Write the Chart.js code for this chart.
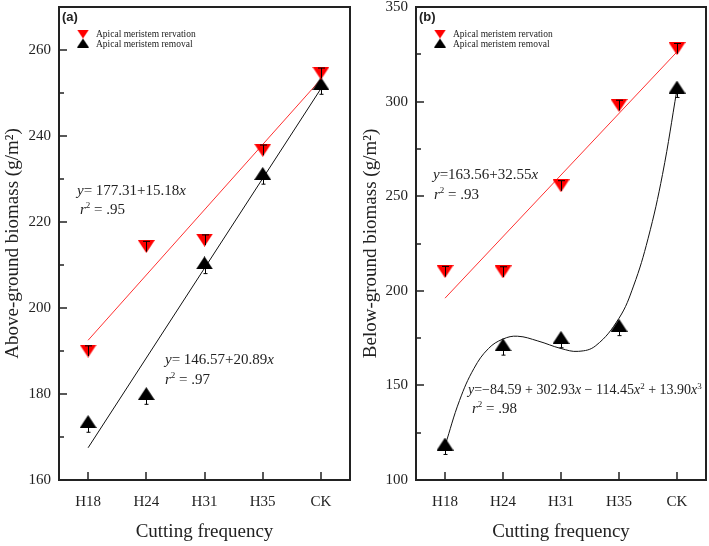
<!DOCTYPE html>
<html>
<head>
<meta charset="utf-8">
<script src="https://cdn.jsdelivr.net/npm/chart.js@4.4.0/dist/chart.umd.min.js"></script>
<style>
body { margin: 0; background: #fff; }
#boxA { position: absolute; left: 0; top: 0; width: 352px; height: 546px; }
#boxB { position: absolute; left: 352px; top: 0; width: 357px; height: 546px; }
</style>
</head>
<body>
<div id="boxA"><canvas id="chartA"></canvas></div>
<div id="boxB"><canvas id="chartB"></canvas></div>
<script>
var categories = ['H18', 'H24', 'H31', 'H35', 'CK'];
var seriesNames = ['Apical meristem rervation', 'Apical meristem removal'];

// (a) above-ground biomass
var aboveKeep = [190.0, 214.3, 215.8, 236.7, 254.6];
var aboveKeepErr = [1.2, 1.2, 1.2, 1.2, 1.2];
var aboveCut = [173.6, 180.1, 210.5, 231.3, 252.2];
var aboveCutErr = [2.5, 2.5, 2.5, 2.5, 2.5];
var aboveKeepFit = [192.5, 253.2];   // fitted line at H18 and CK
var aboveCutFit = [167.5, 251.0];

// (b) below-ground biomass
var belowKeep = [210.2, 210.0, 255.5, 298.0, 328.0];
var belowKeepErr = [2.7, 2.7, 2.7, 2.7, 2.7];
var belowCut = [119.0, 171.5, 175.4, 181.8, 307.7];
var belowCutErr = [5.5, 5.5, 5.5, 5.5, 5.5];
var belowKeepFit = [196.1, 326.3];
var belowCurveX = [1, 1.25, 1.5, 1.75, 2, 2.25, 2.6, 3, 3.3, 3.6, 4, 4.25, 4.5, 4.75, 5];
var belowCurveY = [118, 142, 159, 169.5, 174.5, 176, 173.5, 169.5, 168, 171, 185.5, 202.5, 227.5, 261.5, 306.5];

var serif = '"Liberation Serif", "Times New Roman", serif';
var textColor = '#222';

function makeTriangle(color, up, w, h) {
	var c = document.createElement('canvas');
	c.width = w; c.height = h;
	var g = c.getContext('2d');
	g.fillStyle = color;
	g.beginPath();
	if (up) { g.moveTo(w / 2, 0); g.lineTo(w, h); g.lineTo(0, h); }
	else { g.moveTo(0, 0); g.lineTo(w, 0); g.lineTo(w / 2, h); }
	g.closePath();
	g.fill();
	return c;
}
var redDown = makeTriangle('#ff0000', false, 17, 13);
var blackUp = makeTriangle('#000000', true, 17, 13);

function toPoints(values) {
	return values.map(function(v, i) { return {x: i + 1, y: v}; });
}
function fitPoints(ends) {
	return [{x: 1, y: ends[0]}, {x: categories.length, y: ends[1]}];
}

// text with italic letters and superscripts
function drawRuns(ctx, x, y, runs, size) {
	runs.forEach(function(r) {
		var st = r[1] || '';
		var fs = st === 'sup' ? Math.round(size * 0.62) : size;
		ctx.font = (st === 'i' ? 'italic ' : '') + fs + 'px ' + serif;
		ctx.fillText(r[0], x, st === 'sup' ? y - size * 0.38 : y);
		x += ctx.measureText(r[0]).width;
	});
}

// red: T through the marker; black: only the lower half shows
var errorBarPlugin = {
	id: 'errorBars',
	afterDatasetsDraw: function(chart) {
		var ctx = chart.ctx;
		ctx.save();
		ctx.strokeStyle = '#000';
		ctx.lineWidth = 1;
		chart.data.datasets.forEach(function(ds, di) {
			if (!ds.errors) return;
			var meta = chart.getDatasetMeta(di);
			meta.data.forEach(function(pt, i) {
				var v = ds.data[i].y;
				var yTop = chart.scales.y.getPixelForValue(v + ds.errors[i]);
				var yBot = chart.scales.y.getPixelForValue(v - ds.errors[i]);
				var x = Math.round(pt.x) + 0.5;
				ctx.beginPath();
				if (ds.capAt === 'top') {
					ctx.moveTo(x, yTop); ctx.lineTo(x, yBot);
					ctx.moveTo(x - 3.5, yTop); ctx.lineTo(x + 3.5, yTop);
				} else {
					ctx.moveTo(x, pt.y); ctx.lineTo(x, yBot);
					ctx.moveTo(x - 2, yBot); ctx.lineTo(x + 2, yBot);
				}
				ctx.stroke();
			});
		});
		ctx.restore();
	}
};

var framePlugin = {
	id: 'frame',
	afterDraw: function(chart, args, opts) {
		var ctx = chart.ctx;
		var a = chart.chartArea;
		var xs = chart.scales.x, ys = chart.scales.y;
		ctx.save();
		ctx.strokeStyle = '#222';
		ctx.lineWidth = 2;
		ctx.strokeRect(a.left, a.top, a.right - a.left, a.bottom - a.top);
		ctx.lineWidth = 1.5;
		ctx.beginPath();
		xs.ticks.forEach(function(t) {
			var px = Math.round(xs.getPixelForValue(t.value));
			ctx.moveTo(px, a.bottom); ctx.lineTo(px, a.bottom - 8);
		});
		var yt = ys.ticks.map(function(t) { return t.value; });
		yt.forEach(function(v, i) {
			var py = Math.round(ys.getPixelForValue(v));
			ctx.moveTo(a.left, py); ctx.lineTo(a.left + 8, py);
			if (i < yt.length - 1) {
				var my = Math.round(ys.getPixelForValue((v + yt[i + 1]) / 2));
				ctx.moveTo(a.left, my); ctx.lineTo(a.left + 5, my);
			}
		});
		ctx.stroke();

		// panel label
		ctx.fillStyle = textColor;
		ctx.textBaseline = 'middle';
		ctx.font = 'bold 13px "Liberation Sans", Arial, sans-serif';
		ctx.fillText(opts.label, a.left + 3, 17);

		// legend inside the plot
		var lx = a.left + 24, ly = 34;
		ctx.drawImage(makeTriangle('#ff0000', false, 12, 9), lx - 6, ly - 4.5);
		ctx.drawImage(makeTriangle('#000000', true, 12, 9), lx - 6, ly + 4.5);
		ctx.font = '9.5px ' + serif;
		ctx.fillText(seriesNames[0], lx + 13, ly);
		ctx.fillText(seriesNames[1], lx + 13, ly + 10);

		// equations
		ctx.textBaseline = 'alphabetic';
		opts.equations.forEach(function(eq) {
			drawRuns(ctx, eq.x, eq.y, eq.runs, eq.size);
		});
		ctx.restore();
	}
};

function makeOptions(yMin, yMax, yStep, yTitle, yWidth, titlePad, padRight, extras) {
	return {
		responsive: true,
		maintainAspectRatio: false,
		animation: false,
		layout: { autoPadding: false, padding: { top: 7, right: padRight, left: 0, bottom: 0 } },
		plugins: {
			legend: { display: false },
			tooltip: { enabled: false },
			frame: extras
		},
		scales: {
			x: {
				type: 'linear', min: 0.5, max: 5.5,
				afterBuildTicks: function(s) {
					s.ticks = categories.map(function(c, i) { return {value: i + 1}; });
				},
				ticks: {
					callback: function(v) { return categories[v - 1]; },
					font: { family: serif, size: 15 }, color: textColor, padding: 13, maxRotation: 0
				},
				grid: { display: false, drawTicks: false },
				border: { display: false },
				title: { display: true, text: 'Cutting frequency', font: { family: serif, size: 19 }, color: textColor, padding: { top: 0, bottom: 3 } },
				afterFit: function(s) { s.height = 66; s.paddingLeft = 0; s.paddingRight = 0; }
			},
			y: {
				min: yMin, max: yMax,
				afterBuildTicks: function(s) {
					s.ticks = s.ticks.filter(function(t) { return (t.value - yMin) % yStep === 0; });
				},
				ticks: { stepSize: yStep, font: { family: serif, size: 15 }, color: textColor, padding: 8 },
				grid: { display: false, drawTicks: false },
				border: { display: false },
				title: { display: true, text: yTitle, font: { family: serif, size: 19 }, color: textColor, padding: { top: titlePad, bottom: 0 } },
				afterFit: function(s) { s.width = yWidth; s.paddingTop = 0; s.paddingBottom = 0; }
			}
		}
	};
}

function lineSet(points, color, tension) {
	return {
		type: 'line', data: points, borderColor: color, borderWidth: 1,
		pointRadius: 0, fill: false, tension: tension || 0, order: 2
	};
}
function markerSet(label, values, errs, style, capAt) {
	return {
		label: label, data: toPoints(values), errors: errs, capAt: capAt,
		pointStyle: style, pointRadius: 8, order: 1
	};
}

new Chart(document.getElementById('chartA'), {
	type: 'scatter',
	data: {
		datasets: [
			lineSet(fitPoints(aboveKeepFit), '#ff3030'),
			lineSet(fitPoints(aboveCutFit), '#111'),
			markerSet(seriesNames[0], aboveKeep, aboveKeepErr, redDown, 'top'),
			markerSet(seriesNames[1], aboveCut, aboveCutErr, blackUp, 'bottom')
		]
	},
	options: makeOptions(160, 270, 20, 'Above-ground biomass (g/m²)', 59, 2, 2, {
		label: '(a)',
		equations: [
			{x: 77, y: 195, size: 15, runs: [['y', 'i'], ['= 177.31+15.18'], ['x', 'i']]},
			{x: 80, y: 214, size: 15, runs: [['r', 'i'], ['2', 'sup'], [' = .95']]},
			{x: 165, y: 364, size: 15, runs: [['y', 'i'], ['= 146.57+20.89'], ['x', 'i']]},
			{x: 165, y: 384, size: 15, runs: [['r', 'i'], ['2', 'sup'], [' = .97']]}
		]
	}),
	plugins: [errorBarPlugin, framePlugin]
});

var curvePoints = belowCurveX.map(function(x, i) { return {x: x, y: belowCurveY[i]}; });

new Chart(document.getElementById('chartB'), {
	type: 'scatter',
	data: {
		datasets: [
			lineSet(fitPoints(belowKeepFit), '#ff3030'),
			lineSet(curvePoints, '#111', 0.4),
			markerSet(seriesNames[0], belowKeep, belowKeepErr, redDown, 'top'),
			markerSet(seriesNames[1], belowCut, belowCutErr, blackUp, 'bottom')
		]
	},
	options: makeOptions(100, 350, 50, 'Below-ground biomass (g/m²)', 64, 8, 3, {
		label: '(b)',
		equations: [
			{x: 81, y: 179, size: 15, runs: [['y', 'i'], ['=163.56+32.55'], ['x', 'i']]},
			{x: 82, y: 199, size: 15, runs: [['r', 'i'], ['2', 'sup'], [' = .93']]},
			{x: 116, y: 394, size: 14, runs: [['y', 'i'], ['=\u221284.59 + 302.93'], ['x', 'i'], [' \u2212 114.45'], ['x', 'i'], ['2', 'sup'], [' + 13.90'], ['x', 'i'], ['3', 'sup']]},
			{x: 120, y: 413, size: 15, runs: [['r', 'i'], ['2', 'sup'], [' = .98']]}
		]
	}),
	plugins: [errorBarPlugin, framePlugin]
});
</script>
</body>
</html>
